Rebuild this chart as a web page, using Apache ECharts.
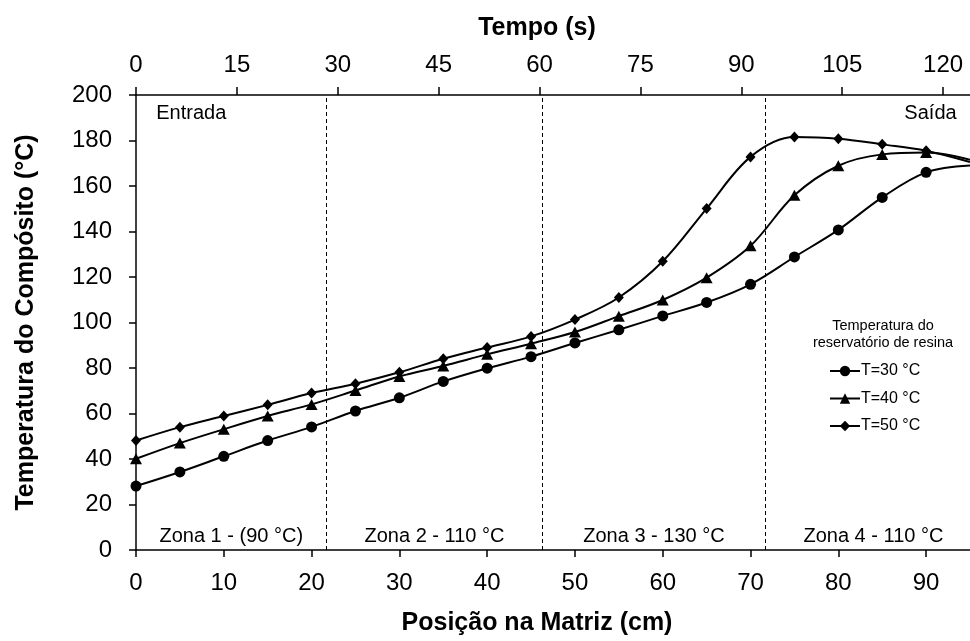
<!doctype html>
<html>
<head>
    <meta charset="utf-8">
    <title>Temperatura do Compósito</title>
    <style type="text/css">
        body, html {
            width: 100%;
            height: 100%;
            margin: 0;
            padding: 0;
            background: #fff;
        }
    </style>
</head>
<body>
<div id="container" style="width: 970px; height: 641px"></div>

<script type="text/javascript" src="https://cdn.jsdelivr.net/npm/echarts@6/dist/echarts.min.js"></script>
<script type="text/javascript">
    // posição na matriz (cm)
    const positions = [0, 5, 10, 15, 20, 25, 30, 35, 40, 45, 50, 55, 60, 65, 70, 75, 80, 85, 90, 95];
    // temperatura do compósito (°C) por temperatura do reservatório
    const t30 = [28.1, 34.3, 41.2, 48.1, 54.1, 61.1, 66.9, 74.1, 79.9, 85.0, 91.0, 96.8, 102.9, 108.8, 116.8, 128.8, 140.7, 155.0, 166.0, 169.0];
    const t40 = [40.1, 47.0, 53.1, 58.9, 64.0, 70.1, 76.3, 80.9, 86.0, 90.7, 95.8, 102.8, 109.9, 119.7, 133.7, 155.9, 168.9, 173.9, 174.7, 171.5];
    const t50 = [48.1, 54.0, 58.9, 63.8, 69.0, 73.1, 78.1, 84.1, 89.0, 93.9, 101.3, 111.0, 126.9, 150.1, 172.8, 181.5, 180.8, 178.3, 175.5, 170.5];
    const seriesNames = ['T=30 °C', 'T=40 °C', 'T=50 °C'];

    // limites das zonas e textos
    const zoneBounds = [21.7, 46.3, 71.7];
    const zoneNames = ['Zona 1 - (90 °C)', 'Zona 2 - 110 °C', 'Zona 3 - 130 °C', 'Zona 4 - 110 °C'];
    const zoneCenters = [10.85, 34, 59, 84];
    const zoneY = 5.8;
    const endNames = ['Entrada', 'Saída'];
    const endX = [6.3, 90.5];
    const endY = 192;

    const font = 'Liberation Sans, Arial, sans-serif';

    function toPoints(values) {
        return values.map(function (v, i) {
            const item = {value: [positions[i], v]};
            if (i === values.length - 1) item.symbol = 'none';
            return item;
        });
    }

    const annotations = zoneNames.map(function (n, i) {
        return {name: n, value: [zoneCenters[i], zoneY]};
    }).concat(endNames.map(function (n, i) {
        return {name: n, value: [endX[i], endY]};
    }));

    const dom = document.getElementById('container');
    const myChart = echarts.init(dom, null, {renderer: 'canvas'});

    const lineBase = {
        type: 'line',
        smooth: 0.35,
        color: '#000',
        lineStyle: {color: '#000', width: 2},
        itemStyle: {color: '#000'},
        silent: true,
        animation: false
    };

    const option = {
        backgroundColor: '#fff',
        animation: false,
        textStyle: {fontFamily: font},
        grid: {left: 136, right: 0, top: 95, bottom: 85},
        graphic: [{
            type: 'text',
            x: 883,
            y: 317,
            style: {
                text: 'Temperatura do\nreservatório de resina',
                font: '14.5px ' + font,
                fill: '#000',
                textAlign: 'center',
                lineHeight: 17
            }
        }],
        legend: {
            data: seriesNames,
            orient: 'vertical',
            left: 829,
            top: 363,
            itemWidth: 30,
            itemHeight: 13,
            itemGap: 11.5,
            padding: 0,
            lineStyle: {width: 2},
            textStyle: {fontSize: 16, color: '#000', fontFamily: font, lineHeight: 16, padding: [0, 0, 0, -4]}
        },
        xAxis: [
            {
                type: 'value',
                min: 0,
                max: 95,
                interval: 10,
                position: 'bottom',
                name: 'Posição na Matriz (cm)',
                nameLocation: 'middle',
                nameGap: 61,
                nameTextStyle: {fontSize: 25, fontWeight: 'bold', color: '#000', padding: [0, 32, 0, 0]},
                axisLine: {onZero: false, lineStyle: {color: '#000', width: 1.5}},
                axisTick: {inside: false, length: 7, lineStyle: {color: '#000', width: 1.5}},
                axisLabel: {fontSize: 24, color: '#000', margin: 21, showMaxLabel: false},
                splitLine: {show: false}
            },
            {
                type: 'value',
                min: 0,
                max: 124,
                interval: 15,
                position: 'top',
                name: 'Tempo (s)',
                nameLocation: 'middle',
                nameGap: 54,
                nameTextStyle: {fontSize: 25, fontWeight: 'bold', color: '#000', padding: [0, 32, 0, 0]},
                axisLine: {onZero: false, lineStyle: {color: '#000', width: 1.5}},
                axisTick: {inside: false, length: 8, lineStyle: {color: '#000', width: 1.5}},
                axisLabel: {fontSize: 24, color: '#000', margin: 18, showMaxLabel: false},
                splitLine: {show: false}
            }
        ],
        yAxis: {
            type: 'value',
            min: 0,
            max: 200,
            interval: 20,
            name: 'Temperatura do Compósito (°C)',
            nameLocation: 'middle',
            nameGap: 97,
            nameTextStyle: {fontSize: 25, fontWeight: 'bold', color: '#000'},
            axisLine: {show: true, onZero: false, lineStyle: {color: '#000', width: 1.5}},
            axisTick: {show: true, inside: false, length: 7, lineStyle: {color: '#000', width: 1.5}},
            axisLabel: {fontSize: 24, color: '#000', margin: 24},
            splitLine: {show: false}
        },
        series: [
            Object.assign({}, lineBase, {
                name: seriesNames[0],
                symbol: 'circle',
                symbolSize: 11,
                data: toPoints(t30),
                z: 5,
                markLine: {
                    silent: true,
                    symbol: ['none', 'none'],
                    label: {show: false},
                    lineStyle: {color: '#000', width: 1, type: [4, 3]},
                    data: zoneBounds.map(function (b) { return {xAxis: b}; })
                }
            }),
            Object.assign({}, lineBase, {
                name: seriesNames[1],
                symbol: 'triangle',
                symbolSize: [12, 11],
                data: toPoints(t40),
                z: 4
            }),
            Object.assign({}, lineBase, {
                name: seriesNames[2],
                symbol: 'diamond',
                symbolSize: [10, 11],
                data: toPoints(t50),
                z: 3
            }),
            {
                type: 'scatter',
                name: 'annotations',
                symbolSize: 0,
                silent: true,
                itemStyle: {opacity: 1},
                data: annotations,
                label: {
                    show: true,
                    position: 'inside',
                    formatter: '{b}',
                    fontSize: 20,
                    color: '#000',
                    opacity: 1,
                    fontFamily: font
                }
            }
        ]
    };

    myChart.setOption(option);
    window.addEventListener('resize', myChart.resize);
</script>
</body>
</html>
